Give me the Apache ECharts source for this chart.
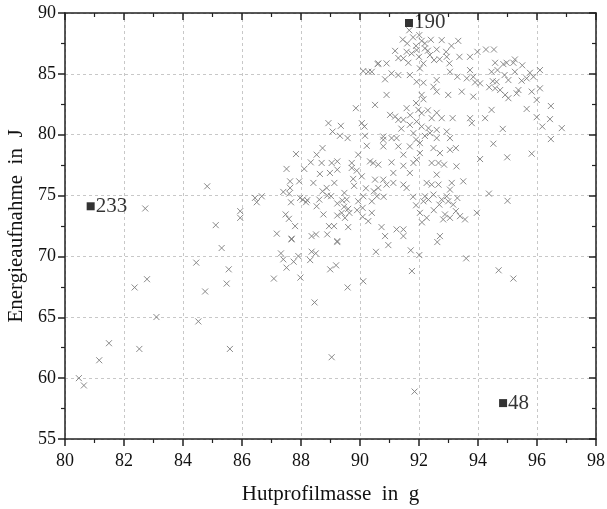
<!DOCTYPE html>
<html>
<head>
<meta charset="utf-8">
<script src="https://cdn.jsdelivr.net/npm/echarts@6/dist/echarts.min.js"></script>
<style>html,body{margin:0;padding:0;background:#fff}#c{width:607px;height:509px}</style>
</head>
<body>
<div id="c"></div>
<script>
// Hutprofilmasse (g), Energieaufnahme (J) pairs
const points = [
[84.82,75.76],[82.72,73.94],[85.94,73.72],[85.94,73.17],[85.11,72.57],[85.31,70.69],[84.45,69.49],[85.55,68.94],
[85.48,67.77],[84.75,67.12],[82.78,68.13],[82.36,67.45],[83.10,65.02],[84.52,64.66],[81.49,62.87],
[81.16,61.47],[82.52,62.40],[85.59,62.40],[80.47,60.00],[80.64,59.40],[91.85,58.90],
[90.54,70.38],[90.96,70.93],[91.72,70.50],[92.01,70.11],[92.62,71.18],[91.76,68.80],[93.60,69.84],[94.70,68.86],[95.20,68.18],
[87.68,71.40],[89.23,71.26],[87.32,70.25],[87.40,69.76],[87.75,69.57],[87.91,70.03],[88.36,70.39],[88.50,70.25],
[88.31,69.70],[87.51,69.08],[87.08,68.18],[87.98,68.26],[88.99,68.94],[89.19,69.27],[89.58,67.45],[90.11,67.96],
[88.46,66.22],[89.04,61.72],
[89.07,80.26],[89.32,79.91],[89.58,79.72],[90.17,79.91],[90.23,79.09],[87.83,78.41],[88.73,78.90],[88.53,78.36],
[89.94,78.36],[87.51,77.19],[88.11,77.19],[88.33,77.73],[88.70,77.68],[89.04,77.68],[89.23,77.81],[89.72,77.68],
[89.72,77.27],[90.34,77.81],[90.62,77.54],[88.64,76.78],[88.98,76.86],[89.23,77.13],[87.63,76.17],[87.94,76.17],
[89.13,76.04],[89.89,77.05],[90.06,76.58],[89.77,76.37],[88.42,76.04],[88.87,75.63],[88.73,75.35],[87.40,75.30],
[87.63,75.63],[87.60,75.16],[87.97,74.81],[88.21,74.62],[88.89,75.00],[89.02,74.95],[89.47,75.22],[89.55,74.67],
[89.94,74.53],[90.11,74.94],[90.47,75.35],[90.57,74.94],[86.44,74.81],[86.50,74.45],[86.67,74.94],[87.66,74.45],
[88.06,74.67],[88.17,74.45],[88.62,74.67],[88.53,74.12],[89.23,74.35],[89.46,74.08],[89.60,73.91],[89.64,73.58],
[89.38,73.58],[89.23,73.36],[89.49,73.17],[88.76,73.45],[90.09,73.99],[90.09,73.26],[90.28,72.90],[87.48,73.45],
[87.59,73.09],[87.80,72.49],[87.18,71.87],[87.68,71.46],[88.36,71.67],[88.51,71.81],[88.89,71.81],[88.95,72.49],
[89.12,72.49],[89.60,72.41],[89.23,71.18],
[90.11,85.23],[90.28,85.17],[90.60,85.80],[89.86,82.18],[90.51,82.45],[88.93,80.95],[89.35,80.73],[90.06,80.95],[90.15,80.67],
[91.67,88.58],[92.01,88.18],[92.09,87.71],[91.45,87.82],[91.19,86.89],[91.58,86.81],[91.75,86.68],[91.92,86.95],
[92.20,87.09],[92.37,86.54],[92.60,87.00],[92.77,87.77],[92.92,86.81],[93.33,87.71],[92.94,86.40],[91.47,86.27],
[91.64,85.91],[92.51,86.13],[92.15,85.86],[93.03,85.86],[93.37,86.40],[93.73,86.40],[93.98,86.81],[94.27,87.00],
[94.54,87.00],[90.62,85.86],[90.90,85.86],[90.40,85.17],[91.07,85.04],[90.85,84.55],[91.30,84.90],[91.69,84.90],
[92.03,85.45],[91.92,84.35],[92.15,84.27],[92.60,84.49],[92.49,83.94],[92.60,83.54],[93.05,85.17],[93.30,84.76],
[93.62,84.63],[93.84,84.76],[94.07,84.22],[94.38,83.90],[94.63,84.35],[93.73,85.31],[90.90,83.27],[92.09,83.27],
[92.15,82.91],[92.99,83.27],[93.45,83.54],[93.84,83.13],[91.58,82.18],[91.98,82.04],[92.09,81.77],[91.02,81.63],
[91.19,81.49],[91.30,81.22],[91.47,81.22],[91.92,81.08],[92.43,81.36],[92.77,81.36],[93.14,81.36],[93.73,81.36],
[94.24,81.36],[93.79,80.95],[91.69,80.81],[92.09,80.67],[92.32,80.54],[92.60,80.40],[92.94,80.26],[91.81,80.13],
[90.79,79.85],[91.07,79.72],
[94.58,85.91],[94.86,85.80],[94.97,85.91],[95.20,85.91],[95.25,86.18],[94.46,85.17],[94.66,85.31],[95.25,85.17],
[95.76,85.09],[96.10,85.31],[94.50,84.40],[95.03,84.49],[95.48,84.44],[95.65,84.63],[95.88,84.76],[94.58,83.81],
[94.75,83.67],[94.92,83.27],[95.03,83.00],[95.31,83.40],[95.37,83.67],[95.82,83.54],[96.10,83.81],[95.99,82.86],
[94.46,82.04],[95.65,82.12],[96.47,82.36],[95.99,81.44],[96.44,81.28],[96.18,80.67],[96.84,80.54],[94.84,80.48],
[96.47,79.64],[94.52,79.26],
[94.07,78.00],[94.99,78.14],[95.82,78.44],[94.37,75.16],[95.00,74.57],
[90.79,79.58],[90.79,79.04],[91.24,79.72],[91.30,79.04],[91.69,79.04],[91.47,78.36],[92.03,79.31],[92.03,78.49],
[91.92,77.95],[91.81,77.68],[92.37,80.13],[92.60,79.72],[92.49,78.90],[92.71,78.49],[93.05,78.76],[93.25,78.90],
[93.05,79.72],[92.43,77.68],[92.66,77.68],[92.85,77.54],[92.60,76.72],[93.27,77.40],[90.45,77.68],[91.07,77.73],
[91.47,77.45],[91.69,76.86],[91.13,76.86],[90.79,76.31],[90.90,75.90],[90.51,76.31],[90.62,75.63],[91.13,76.04],
[91.47,75.90],[91.58,75.63],[92.26,76.04],[92.43,75.90],[92.66,75.90],[93.11,76.04],[93.50,76.17],[93.05,75.49],
[92.20,74.94],[92.32,74.67],[92.49,75.08],[92.77,74.67],[92.94,74.94],[92.99,74.53],[92.69,74.26],[93.16,74.26],
[92.15,74.53],[90.40,74.53],[90.40,73.58],[92.03,73.58],[92.26,73.17],[92.88,73.45],[93.05,73.17],[93.25,73.72],
[93.39,73.31],[93.56,73.04],[92.82,73.04],[93.96,73.58],[90.73,72.41],[91.24,72.22],[91.47,72.22],[90.85,71.67],
[91.47,71.67],[92.71,71.67],
[91.80,88.00],[92.20,87.50],[91.90,87.30],[92.40,87.80],[91.60,87.50],[92.30,86.90],[91.30,86.30],[92.70,86.20],
[93.10,87.30],[92.00,86.40],[91.90,82.60],[92.30,82.00],[91.70,81.60],[92.60,81.80],[91.40,80.50],[92.20,79.90],
[91.90,79.60],[89.80,75.80],[90.20,75.60],[89.40,74.60],[89.90,73.80],[91.80,74.90],[91.90,74.20],[92.50,73.80],
[92.10,72.80],[93.30,74.80],[90.80,74.90],[93.90,84.30],[94.90,84.90],[95.50,85.70]
];
// Labelled specimens
const labelMass = [91.66, 80.87, 94.85];
const labelEnergy = [89.18, 74.12, 57.95];
const labelNames = ['190', '233', '48'];

const xTicks = {min: 80, max: 98, interval: 2};
const yTicks = {min: 55, max: 90, interval: 5};

const FONT = '"Liberation Serif", "Times New Roman", serif';
const chart = echarts.init(document.getElementById('c'), null, {renderer: 'canvas'});
const axisCommon = (inside) => ({
  axisLine: {show: true, onZero: false, lineStyle: {color: '#222', width: 1.5}},
  axisTick: {show: true, inside: inside, length: 7, lineStyle: {color: '#222', width: 1.5}},
  minorTick: {show: true, splitNumber: 2, length: 4, lineStyle: {color: '#222', width: 1.2}},
});
chart.setOption({
  animation: false,
  grid: {left: 65, right: 11, top: 13, bottom: 70, containLabel: false, outerBoundsMode: 'none'},
  xAxis: [
    Object.assign({type: 'value', min: xTicks.min, max: xTicks.max, interval: xTicks.interval, position: 'bottom',
      name: 'Hutprofilmasse  in  g', nameLocation: 'middle', nameGap: 45,
      nameTextStyle: {fontFamily: FONT, fontSize: 21, color: '#111'},
      axisLabel: {fontFamily: FONT, fontSize: 18, color: '#111', margin: 13},
      splitLine: {show: true, lineStyle: {color: '#c8c8c8', type: [3, 3], width: 1}}}, axisCommon(false)),
    Object.assign({type: 'value', min: xTicks.min, max: xTicks.max, interval: xTicks.interval, position: 'top',
      axisLabel: {show: false}, splitLine: {show: false}}, axisCommon(true))
  ],
  yAxis: [
    Object.assign({type: 'value', min: yTicks.min, max: yTicks.max, interval: yTicks.interval, position: 'left',
      name: 'Energieaufnahme  in  J', nameLocation: 'middle', nameGap: 37, nameRotate: 90,
      nameTextStyle: {fontFamily: FONT, fontSize: 21, color: '#111'},
      axisLabel: {fontFamily: FONT, fontSize: 18, color: '#111', margin: 9},
      splitLine: {show: true, lineStyle: {color: '#c8c8c8', type: [3, 3], width: 1}}}, axisCommon(false)),
    Object.assign({type: 'value', min: yTicks.min, max: yTicks.max, interval: yTicks.interval, position: 'right',
      axisLabel: {show: false}, splitLine: {show: false}}, axisCommon(true))
  ],
  series: [
    {
      type: 'scatter', xAxisIndex: 0, yAxisIndex: 0,
      data: points,
      symbol: 'path://M0,0L10,10M10,0L0,10',
      symbolSize: 6,
      itemStyle: {color: 'rgba(0,0,0,0)', borderColor: '#7d7d7d', borderWidth: 1, opacity: 0.9},
      emphasis: {disabled: true}
    },
    {
      type: 'scatter', xAxisIndex: 0, yAxisIndex: 0,
      data: labelMass.map((m, i) => ({value: [m, labelEnergy[i]], name: labelNames[i]})),
      symbol: 'rect', symbolSize: 8,
      itemStyle: {color: '#000'},
      label: {show: true, position: 'right', distance: 1, formatter: p => p.name,
        fontFamily: FONT, fontSize: 21, color: '#000'},
      z: 5
    }
  ]
});
</script>
</body>
</html>
